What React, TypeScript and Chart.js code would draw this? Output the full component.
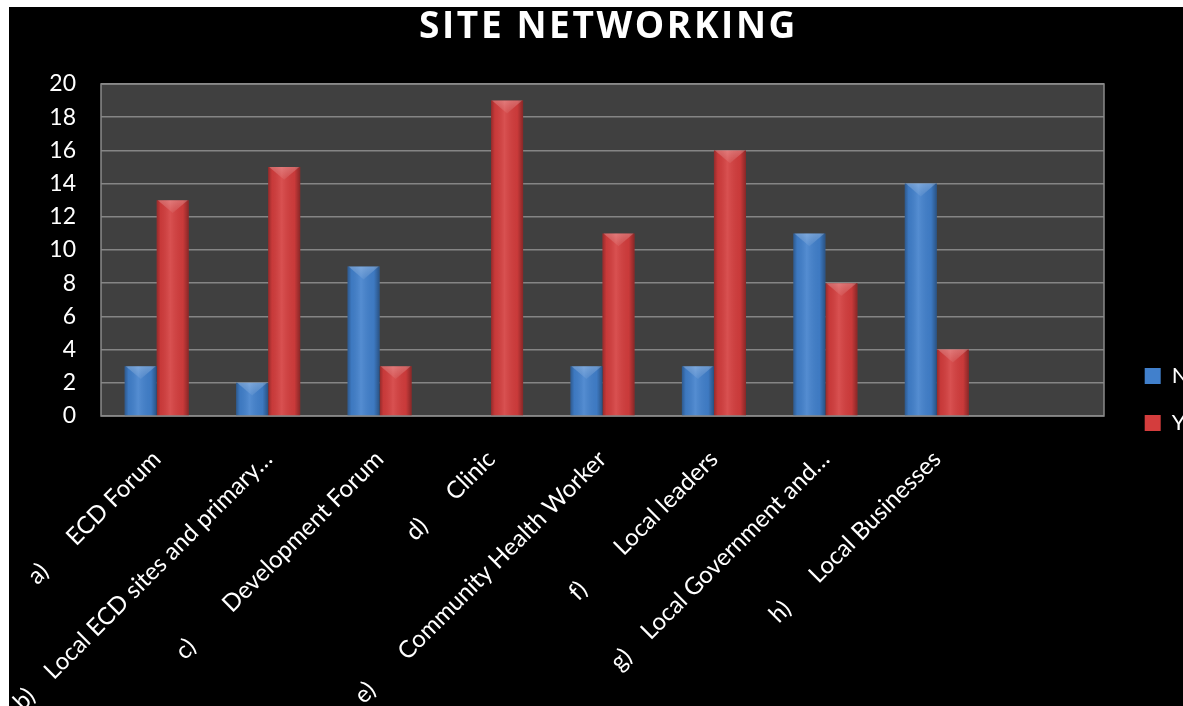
import React, { useEffect, useRef } from 'react';
import { Chart, registerables } from 'chart.js';

Chart.register(...registerables);

const titleText = 'SITE NETWORKING';
const categories = [
  'a)      ECD Forum',
  'b)    Local ECD sites and primary…',
  'c)        Development Forum',
  'd)      Clinic',
  'e)       Community Health Worker',
  'f)        Local leaders',
  'g)    Local Government and…',
  'h)      Local Businesses',
  '',
];
const seriesNames = ['N', 'Y'];
const seriesN = [3, 2, 9, 0, 3, 3, 11, 14];
const seriesY = [13, 15, 3, 19, 11, 16, 8, 4];
const yMin = 0;
const yMax = 20;
const yStep = 2;

const FONT = 'Lato, "Open Sans", sans-serif';

const plotFrame = {
  id: 'plotFrame',
  beforeDraw(chart: any) {
    const { ctx, chartArea: a } = chart;
    ctx.save();
    ctx.fillStyle = '#404040';
    ctx.fillRect(a.left, a.top, a.right - a.left, a.bottom - a.top);
    ctx.restore();
  },
  beforeDatasetsDraw(chart: any) {
    const { ctx, chartArea: a } = chart;
    ctx.save();
    ctx.strokeStyle = '#8a8a8a';
    ctx.lineWidth = 1.5;
    ctx.strokeRect(a.left, a.top, a.right - a.left, a.bottom - a.top);
    ctx.restore();
  },
};

// widen the title's letter spacing (the reference title is set wide)
const titleSpacing = {
  id: 'titleSpacing',
  afterLayout(chart: any) {
    const tb = chart.titleBlock;
    if (tb && !tb.__spaced) {
      const orig = tb.draw.bind(tb);
      tb.draw = (...args: any[]) => {
        const ctx = chart.ctx;
        ctx.save();
        (ctx as any).letterSpacing = '2.6px';
        orig(...args);
        ctx.restore();
      };
      tb.__spaced = true;
    }
  },
};

const bevel = {
  id: 'bevel',
  afterDatasetsDraw(chart: any) {
    const ctx = chart.ctx;
    ctx.save();
    for (const meta of chart.getSortedVisibleDatasetMetas()) {
      for (const el of meta.data) {
        const { x, y, base, width } = el.getProps(['x', 'y', 'base', 'width'], true);
        const h = base - y;
        if (!(h > 0.5)) continue;
        const l = x - width / 2;
        const r = x + width / 2;
        const g = ctx.createLinearGradient(l, 0, r, 0);
        g.addColorStop(0, 'rgba(0,0,0,0.30)');
        g.addColorStop(0.12, 'rgba(0,0,0,0.06)');
        g.addColorStop(0.42, 'rgba(255,255,255,0.10)');
        g.addColorStop(0.82, 'rgba(0,0,0,0.05)');
        g.addColorStop(1, 'rgba(0,0,0,0.36)');
        ctx.fillStyle = g;
        ctx.fillRect(l, y, width, h);
        const b = Math.min(width * 0.4, h);
        const tg = ctx.createLinearGradient(0, y, 0, y + b);
        tg.addColorStop(0, 'rgba(255,255,255,0.24)');
        tg.addColorStop(1, 'rgba(255,255,255,0.06)');
        ctx.beginPath();
        ctx.moveTo(l + 1, y);
        ctx.lineTo(r - 1, y);
        ctx.lineTo(x, y + b);
        ctx.closePath();
        ctx.fillStyle = tg;
        ctx.fill();
      }
    }
    ctx.restore();
  },
};

export default function App() {
  const ref = useRef<HTMLCanvasElement>(null);
  useEffect(() => {
    if (!ref.current) return;
    const chart = new Chart(ref.current, {
      type: 'bar',
      data: {
        labels: categories,
        datasets: [
          { label: seriesNames[0], data: seriesN, backgroundColor: '#4180cc', borderWidth: 0 },
          { label: seriesNames[1], data: seriesY, backgroundColor: '#d43d3d', borderWidth: 0 },
        ],
      },
      options: {
        responsive: false,
        animation: false,
        devicePixelRatio: 1,
        layout: { padding: { left: 18.3, right: 19.3, top: 0, bottom: 0 } },
        datasets: { bar: { categoryPercentage: 0.575, barPercentage: 1 } },
        scales: {
          x: {
            grid: { display: false, drawTicks: false },
            border: { display: false },
            ticks: {
              color: '#ffffff',
              font: { family: FONT, size: 24, lineHeight: 0.25 },
              maxRotation: 45,
              minRotation: 45,
              autoSkip: false,
              padding: 37,
            },
            afterFit: (s: any) => {
              s.height = 376;
              s.paddingLeft = 0;
              s.paddingRight = 0;
            },
          },
          y: {
            min: yMin,
            max: yMax,
            grid: { color: '#858585', lineWidth: 1.5, drawTicks: false },
            border: { display: false },
            ticks: {
              stepSize: yStep,
              color: '#ffffff',
              font: { family: FONT, size: 23 },
              padding: 25,
            },
            afterFit: (s: any) => { s.width = 73.7; },
          },
          yR: {
            position: 'right',
            display: true,
            grid: { display: false, drawTicks: false },
            border: { display: false },
            ticks: { display: false },
            afterFit: (s: any) => { s.width = 15.7; },
          },
        },
        plugins: {
          title: {
            display: true,
            text: titleText,
            color: '#ffffff',
            font: { family: '"Open Sans", Lato, sans-serif', size: 37, weight: 'bold', lineHeight: 1 },
            padding: { top: 2, bottom: 38 },
          },
          legend: {
            position: 'right',
            align: 'center',
            maxWidth: 70,
            labels: {
              color: '#ffffff',
              font: { family: FONT, size: 22 },
              boxWidth: 16,
              boxHeight: 16,
              padding: 25,
            },
          },
          tooltip: { enabled: false },
        },
      },
      plugins: [plotFrame, bevel, titleSpacing],
    } as any);
    return () => chart.destroy();
  }, []);

  return (
    <div
      style={{
        position: 'fixed',
        left: 9,
        top: 7,
        width: 1174,
        height: 699,
        overflow: 'hidden',
        background: '#000000',
      }}
    >
      <canvas ref={ref} width={1200} height={785} style={{ display: 'block', width: 1200, height: 785 }} />
    </div>
  );
}
